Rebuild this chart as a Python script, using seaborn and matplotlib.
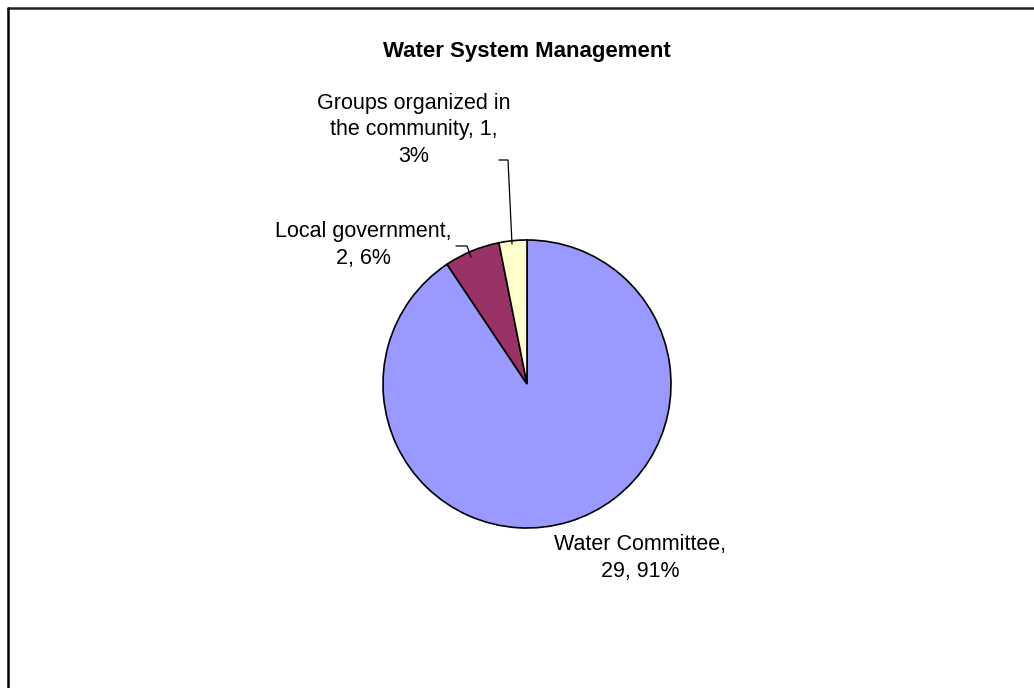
import matplotlib
matplotlib.use("Agg")
import matplotlib.pyplot as plt
from matplotlib.lines import Line2D
import seaborn as sns

# Data
categories = ["Water Committee", "Local government", "Groups organized in the community"]
counts = [29, 2, 1]
colors = ["#9999FF", "#993366", "#FFFFCC"]
title = "Water System Management"

sns.set_theme(style="white")
plt.rcParams['font.family'] = ['Liberation Sans', 'DejaVu Sans']
plt.rcParams['text.color'] = 'black'

W, H = 1034, 688
fig = plt.figure(figsize=(W / 100, H / 100), dpi=100)
ax = fig.add_axes([0, 0, 1, 1])
ax.set_xlim(0, W)
ax.set_ylim(0, H)
ax.set_aspect("equal")
ax.axis("off")

def Y(y):
    return H - y

cx, cy, r = 527, 384, 144
ax.pie(counts, colors=colors, startangle=90, counterclock=False,
       center=(cx, Y(cy)), radius=r,
       wedgeprops=dict(edgecolor="black", linewidth=1.2))
ax.set_xlim(0, W)
ax.set_ylim(0, H)

total = sum(counts)
pct = [round(100 * c / total) for c in counts]

fs = 15.5
ls = 1.36
# Water Committee
ax.text(640, Y(558), f"{categories[0]},\n{counts[0]}, {pct[0]}%",
        ha="center", va="center", fontsize=fs, linespacing=ls, color="black")
# Local government
ax.text(363, Y(245), f"{categories[1]},\n{counts[1]}, {pct[1]}%",
        ha="center", va="center", fontsize=fs, linespacing=ls, color="black")
# Groups organized in the community
ax.text(414, Y(130), "Groups organized in\nthe community, " + f"{counts[2]},\n{pct[2]}%",
        ha="center", va="center", fontsize=fs, linespacing=ls, color="black")

# leader lines
ax.plot([499, 508, 512], [Y(160), Y(160), Y(244)], color="black", lw=0.9)
ax.plot([456, 467, 471], [Y(246), Y(246), Y(257)], color="black", lw=0.9)

# title
fig.text(527 / W, 1 - 52 / H, title, ha="center", va="center",
         fontsize=16, fontweight="bold", color="black")

# frame (top and left)
fig.add_artist(Line2D([8 / W, 1], [1 - 7.5 / H, 1 - 7.5 / H], color="#222222", lw=1.8))
fig.add_artist(Line2D([8 / W, 8 / W], [0, 1 - 7.5 / H], color="black", lw=1.8))

fig.savefig("out.png", dpi=100, facecolor="white")
